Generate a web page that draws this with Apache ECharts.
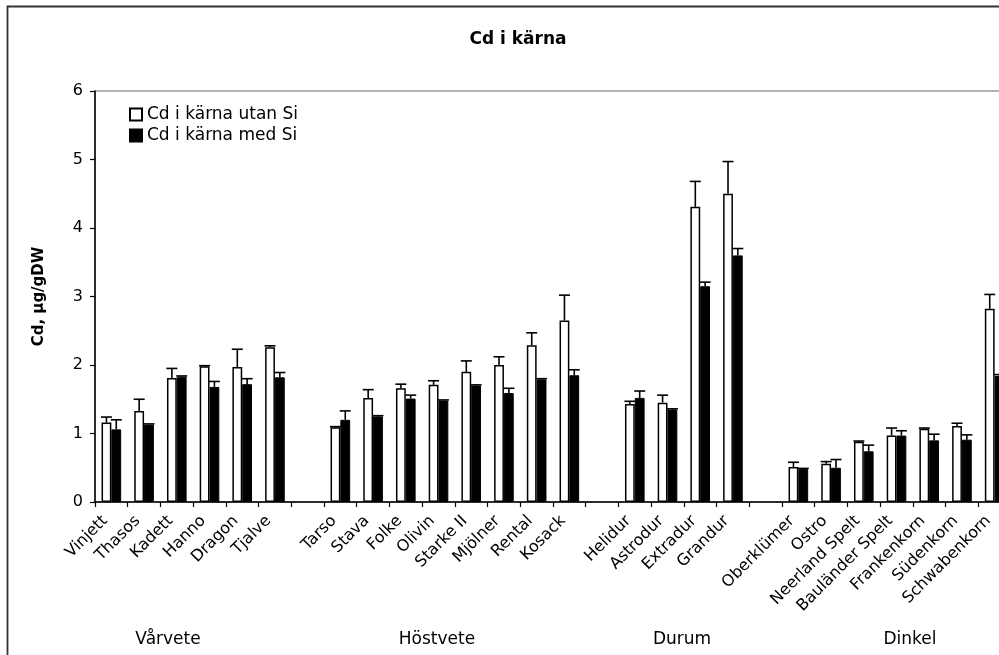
<!DOCTYPE html>
<html>
<head>
<meta charset="utf-8">
<script src="https://cdn.jsdelivr.net/npm/echarts@6/dist/echarts.min.js"></script>
<style>
html,body{margin:0;padding:0;background:#fff;}
#chart{width:999px;height:655px;}
</style>
</head>
<body>
<div id="chart"></div>
<script>
const categories = ['Vinjett','Thasos','Kadett','Hanno','Dragon','Tjalve','',
  'Tarso','Stava','Folke','Olivin','Starke II','Mjölner','Rental','Kosack','',
  'Helidur','Astrodur','Extradur','Grandur','',
  'Oberklümer','Ostro','Neerland Spelt','Bauländer Spelt','Frankenkorn','Südenkorn','Schwabenkorn'];
const utanSi    = [1.16,1.33,1.81,1.98,1.97,2.26,null,1.09,1.52,1.66,1.71,1.90,2.00,2.29,2.65,null,1.43,1.45,4.31,4.50,null,0.51,0.56,0.88,0.97,1.07,1.11,2.82];
const utanSiErr = [0.08,0.17,0.14,0.01,0.26,0.02,null,0.01,0.12,0.06,0.06,0.16,0.12,0.18,0.37,null,0.04,0.11,0.37,0.47,null,0.07,0.03,0.01,0.11,0.01,0.04,0.21];
const medSi     = [1.06,1.13,1.83,1.68,1.72,1.82,null,1.20,1.25,1.51,1.48,1.70,1.59,1.79,1.85,null,1.52,1.35,3.15,3.60,null,0.48,0.50,0.74,0.97,0.90,0.91,1.84];
const medSiErr  = [0.14,0.01,0.01,0.08,0.08,0.07,null,0.13,0.01,0.05,0.01,0.01,0.07,0.01,0.08,null,0.10,0.01,0.06,0.10,null,0.01,0.12,0.09,0.07,0.09,0.07,0.02];
const groupLabels = ['Vårvete','Höstvete','Durum','Dinkel'];
const yTicks = [0,1,2,3,4,5,6];

const FONT = 'DejaVu Sans';
const BAR_FRAC = 0.3;

function errData(vals, errs){
  const out = [];
  vals.forEach((v,i)=>{ if(v!=null) out.push([i, v, errs[i]]); });
  return out;
}
function errRender(sign){
  return function(params, api){
    const i = api.value(0), v = api.value(1), e = api.value(2);
    const band = api.size([1,0])[0];
    const off = sign * band * BAR_FRAC / 2;
    const p0 = api.coord([i, v]);
    const p1 = api.coord([i, v + e]);
    const x = p0[0] + off;
    const st = {stroke:'#000', lineWidth:1.6};
    return {type:'group', children:[
      {type:'line', shape:{x1:x, y1:p0[1], x2:x, y2:p1[1]}, style:st},
      {type:'line', shape:{x1:x-5.5, y1:p1[1], x2:x+5.5, y2:p1[1]}, style:st}
    ]};
  };
}

const chart = echarts.init(document.getElementById('chart'), null, {renderer:'canvas'});
const groupX = [168, 437, 682, 910];

chart.setOption({
  animation:false,
  backgroundColor:'#fff',
  title:{
    text:'Cd i kärna', left:513, top:26, textAlign:'center',
    textStyle:{fontFamily:FONT, fontSize:17, fontWeight:'bold', color:'#000'}
  },
  legend:{
    orient:'vertical', left:124, top:101, itemWidth:12, itemHeight:12, itemGap:4,
    selectedMode:false, icon:'rect',
    textStyle:{fontFamily:FONT, fontSize:17, color:'#000'},
    data:['Cd i kärna utan Si','Cd i kärna med Si']
  },
  grid:{
    left:95, top:91, width:916, height:411, containLabel:false, outerBoundsMode:'none',
    show:true, borderColor:'#999', borderWidth:1.5, backgroundColor:'transparent'
  },
  xAxis:{
    type:'category', data:categories,
    axisLine:{lineStyle:{color:'#000', width:1.5}},
    axisTick:{show:true, interval:0, length:5, lineStyle:{color:'#000', width:1.2}},
    axisLabel:{interval:0, rotate:45, margin:10, padding:[0,9,0,0], fontFamily:FONT, fontSize:16, color:'#000'},
    splitLine:{show:false}
  },
  yAxis:{
    type:'value', min:yTicks[0], max:yTicks[yTicks.length-1], interval:1,
    name:'Cd, µg/gDW', nameLocation:'middle', nameGap:48,
    nameTextStyle:{fontFamily:FONT, fontSize:15, fontWeight:'bold', color:'#000'},
    axisLine:{show:true, lineStyle:{color:'#000', width:1.5}},
    axisTick:{show:true, length:5, lineStyle:{color:'#000', width:1.2}},
    axisLabel:{margin:12, fontFamily:FONT, fontSize:16, color:'#000'},
    splitLine:{show:false}
  },
  series:[
    {name:'Cd i kärna utan Si', type:'bar', data:utanSi, barWidth:(BAR_FRAC*100)+'%', barGap:'0%',
     itemStyle:{color:'#fff', borderColor:'#000', borderWidth:1.5}},
    {name:'Cd i kärna med Si', type:'bar', data:medSi, barWidth:(BAR_FRAC*100)+'%', barGap:'0%',
     itemStyle:{color:'#000', borderColor:'#000', borderWidth:1}},
    {type:'custom', data:errData(utanSi, utanSiErr), renderItem:errRender(-1), encode:{x:0,y:1}, z:5, silent:true},
    {type:'custom', data:errData(medSi, medSiErr), renderItem:errRender(1), encode:{x:0,y:1}, z:5, silent:true}
  ],
  graphic:[
    {type:'rect', shape:{x:7.5, y:6.5, width:1200, height:1000}, style:{fill:'none', stroke:'#333', lineWidth:1.8}, z:100, silent:true}
  ].concat(groupLabels.map((t,k)=>({
    type:'text', x:groupX[k], y:640,
    style:{text:t, fill:'#000', font:'17px "'+FONT+'"', textAlign:'center', textVerticalAlign:'middle'}
  })))
});
</script>
</body>
</html>
